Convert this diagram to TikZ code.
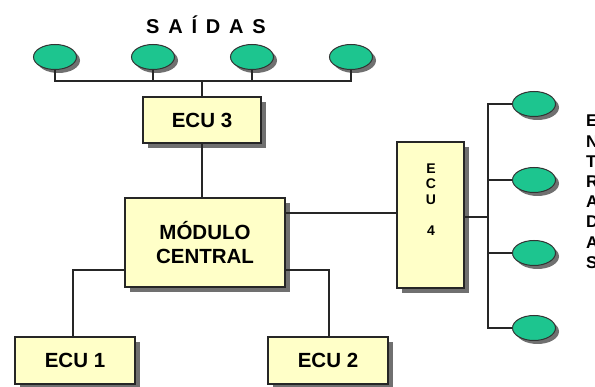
\documentclass[tikz,border=0pt]{standalone}
\usepackage{fontspec}
\setmainfont{Liberation Sans}
\usetikzlibrary{shapes.geometric}
\definecolor{boxfill}{HTML}{FFFFC8}
\definecolor{ovalfill}{HTML}{1DC58F}
\definecolor{shadowgray}{HTML}{707070}
\begin{document}
\begin{tikzpicture}[x=1pt,y=-1pt,
  box/.style={draw=black!85,line width=1.2pt,fill=boxfill,
    font=\bfseries\fontsize{20.5}{22}\selectfont,align=center,inner sep=0pt},
  bshade/.style={fill=shadowgray,draw=none,inner sep=0pt},
  oval/.style={ellipse,draw=black!80,line width=1pt,fill=ovalfill,
    minimum width=43pt,minimum height=25pt,inner sep=0pt},
  oshade/.style={ellipse,fill=shadowgray,draw=none,
    minimum width=43pt,minimum height=25pt,inner sep=0pt},
  wire/.style={draw=black!85,line width=1.3pt}]
\fill[white] (0,0) rectangle (595,387);
\useasboundingbox (0,0) rectangle (595,387);
% title
\node[font=\bfseries\fontsize{20}{22}\selectfont\addfontfeature{LetterSpace=44}] (saidas) at (206,25) {SAÍDAS};
% shadows of the top outputs
\node[oshade] (o1s) at (58.5,60.5) {};
\node[oshade] (o2s) at (156.5,60.5) {};
\node[oshade] (o3s) at (255.5,60.5) {};
\node[oshade] (o4s) at (354.5,60.5) {};
% top outputs
\node[oval] (o1) at (55,57) {};
\node[oval] (o2) at (153,57) {};
\node[oval] (o3) at (252,57) {};
\node[oval] (o4) at (351,57) {};
% shadows of the boxes
\node[bshade,minimum width=118pt,minimum height=46pt] (ecu3s) at (207,125) {};
\node[bshade,minimum width=160pt,minimum height=89pt] (mcs) at (210,247.5) {};
\node[bshade,minimum width=67pt,minimum height=146pt] (ecu4s) at (435.5,220) {};
\node[bshade,minimum width=120pt,minimum height=47pt] (ecu1s) at (80,365.5) {};
\node[bshade,minimum width=120pt,minimum height=47pt] (ecu2s) at (333,365.5) {};
% boxes
\node[box,minimum width=118pt,minimum height=46pt] (ecu3) at (202,120) {ECU 3};
\node[box,minimum width=160pt,minimum height=89pt] (mc) at (205,242.5) {MÓDULO\\[2pt]CENTRAL};
\node[box,minimum width=67pt,minimum height=146pt] (ecu4) at (430.5,215) {};
\node[font=\bfseries\fontsize{14}{15.5}\selectfont,align=center,inner sep=0pt] (ecu4t) at (431,199.5) {E\\C\\U\\[15.5pt]4};
\node[box,minimum width=120pt,minimum height=47pt] (ecu1) at (75,360.5) {ECU 1};
\node[box,minimum width=120pt,minimum height=47pt] (ecu2) at (328,360.5) {ECU 2};
% shadows of the right inputs
\node[oshade] (i1s) at (537.5,107.5) {};
\node[oshade] (i2s) at (537.5,183.5) {};
\node[oshade] (i3s) at (537.5,256.5) {};
\node[oshade] (i4s) at (537.5,331.5) {};
% right inputs
\node[oval] (i1) at (534,104) {};
\node[oval] (i2) at (534,180) {};
\node[oval] (i3) at (534,253) {};
\node[oval] (i4) at (534,328) {};
\node[font=\bfseries\fontsize{17}{20.2}\selectfont,align=left,inner sep=0pt,anchor=north west] (entradas) at (586,115) {E\\N\\T\\R\\A\\D\\A\\S};
% bus coordinates
\coordinate (busL) at (55,81);
\coordinate (busR) at (351,81);
\coordinate (busC) at (202,81);
\coordinate (vx) at (488,217);
% wires top
\draw[wire] (o1.south) |- (busL) -- (busR) -- (o4.south);
\draw[wire] (o2.south) -- (o2.south |- busL);
\draw[wire] (o3.south) -- (o3.south |- busL);
\draw[wire] (busC) -- (ecu3.north);
\draw[wire] (ecu3.south) -- (mc.north -| ecu3.south);
% module to ecu4
\draw[wire] (mc.east |- 0,213) -- (ecu4.west |- 0,213);
% module to ecu1 / ecu2
\draw[wire] (mc.west |- 0,270) -| (ecu1.north -| 73,0);
\draw[wire] (mc.east |- 0,270) -| (ecu2.north -| 329,0);
% ecu4 to inputs
\draw[wire] (ecu4.east |- vx) -- (vx);
\draw[wire] (i1.west) -| (vx) |- (i4.west);
\draw[wire] (i2.west) -- (i2.west -| vx);
\draw[wire] (i3.west) -- (i3.west -| vx);
\end{tikzpicture}
\end{document}
